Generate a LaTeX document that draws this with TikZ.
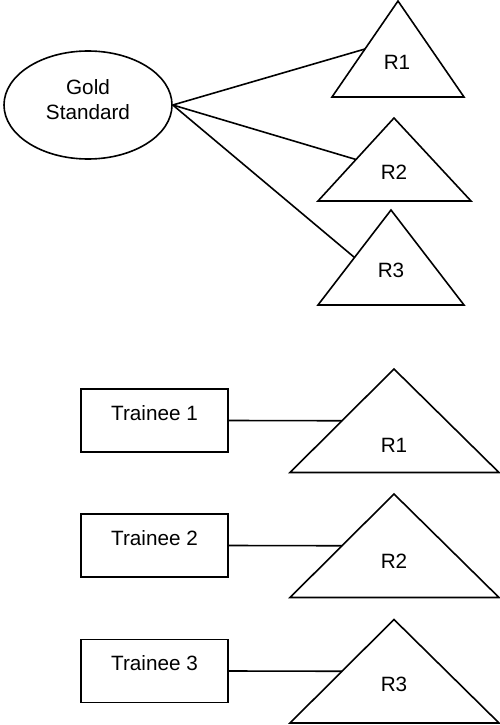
\documentclass[tikz,border=0pt]{standalone}
\usepackage{fontspec}
\setmainfont{Liberation Sans}
\usetikzlibrary{shapes.geometric,calc}

\tikzset{
  outline/.style={draw=black, line width=1.6pt},
  link/.style={draw=black, line width=1.6pt},
  lbl/.style={inner sep=0pt, font=\fontsize{20.7}{24.8}\selectfont, align=center},
  goldnode/.style={outline, ellipse, minimum width=168pt, minimum height=108pt, inner sep=0pt},
  traineebox/.style={outline, rectangle, minimum width=147pt, minimum height=63pt, inner sep=0pt},
}

\begin{document}
\begin{tikzpicture}[x=1pt,y=-1pt]
  \useasboundingbox (0,0) rectangle (500,725);

  % reference standard
  \node[goldnode] (gs) at (88,105) {};
  \node[lbl] (gstext) at (88,99.5) {Gold\\Standard};

  % upper ratings
  \coordinate (a1) at (398,1);   \coordinate (l1) at (332,97);  \coordinate (r1) at (464,97);
  \coordinate (a2) at (394,118); \coordinate (l2) at (318,201); \coordinate (r2) at (471,201);
  \coordinate (a3) at (391,210); \coordinate (l3) at (318,305); \coordinate (r3) at (464,305);
  \draw[outline] (a1) -- (l1) -- (r1) -- cycle;
  \draw[outline] (a2) -- (l2) -- (r2) -- cycle;
  \draw[outline] (a3) -- (l3) -- (r3) -- cycle;
  \node[lbl] (g1) at (397,62) {R1};
  \node[lbl] (g2) at (394,172.5) {R2};
  \node[lbl] (g3) at (391,270) {R3};
  \coordinate (in1) at ($(a1)!0.5!(l1)$);
  \coordinate (in2) at ($(a2)!0.5!(l2)$);
  \coordinate (in3) at ($(a3)!0.5!(l3)$);
  \draw[link] (gs.east) -- (in1);
  \draw[link] (gs.east) -- (in2);
  \draw[link] (gs.east) -- (in3);

  % trainees and their ratings
  \foreach \i/\dy/\ly in {1/0/445,2/125/561,3/250.5/684}{
    \node[traineebox] (t\i) at (154.5,420.5+\dy) {};
    \node[lbl] (t\i text) at (154.5,413+\dy) {Trainee \i};
    \coordinate (ta\i) at (394,369+\dy);
    \coordinate (tl\i) at (290,472.5+\dy);
    \coordinate (tr\i) at (499,472.5+\dy);
    \draw[outline] (ta\i) -- (tl\i) -- (tr\i) -- cycle;
    \node[lbl] (tq\i) at (394,\ly) {R\i};
    \coordinate (tin\i) at ($(ta\i)!0.5!(tl\i)$);
    \draw[link] (t\i.east) -- (tin\i);
  }
\end{tikzpicture}
\end{document}
